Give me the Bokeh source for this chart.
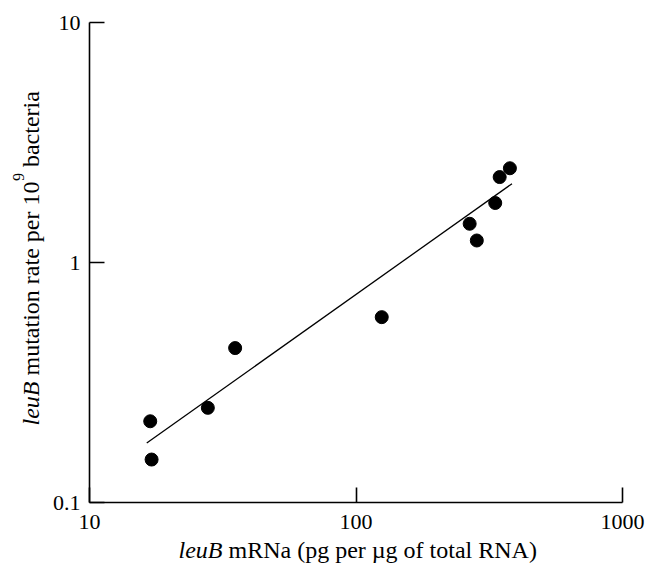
import math
from bokeh.plotting import figure
from bokeh.models import FixedTicker, Label, LogAxis, Range1d
from bokeh.embed import file_html
from bokeh.resources import INLINE

# data
mrna = [16.9, 17.1, 27.8, 35.2, 124.9, 267, 284, 333, 346, 378]
rate = [0.218, 0.151, 0.248, 0.440, 0.592, 1.45, 1.235, 1.77, 2.27, 2.47]
fit_x = [16.4, 385]
fit_y = [0.177, 2.13]
x_ticks = [10, 100, 1000]
y_ticks = [0.1, 1, 10]
x_tick_labels = ["10", "100", "1000"]
y_tick_labels = ["0.1", "1", "10"]

FONT = "Liberation Serif"
W, H = 660, 564
# visible axes box in pixels
X0, XDEC = 89, 266.5      # x=10 at px 89, one decade = 266.5 px
Y0, YDEC = 22, 240        # y=10 at py 22, one decade = 240 px

def dx(px):
    return 10 ** (1 + (px - X0) / XDEC)

def dy(py):
    return 10 ** (1 - (py - Y0) / YDEC)

p = figure(x_axis_type="log", y_axis_type="log",
           x_axis_location=None, y_axis_location=None,
           x_range=Range1d(dx(0), dx(W)), y_range=Range1d(dy(H), dy(0)),
           width=W, height=H,
           min_border_left=0, min_border_right=0,
           min_border_top=0, min_border_bottom=0,
           output_backend="svg", toolbar_location=None)
p.outline_line_color = None
p.background_fill_color = "white"
p.border_fill_color = "white"
for g in p.grid:
    g.visible = False

xaxis = LogAxis(fixed_location=min(y_ticks), bounds=(min(x_ticks), max(x_ticks)))
yaxis = LogAxis(fixed_location=min(x_ticks), bounds=(min(y_ticks), max(y_ticks)))
for ax, ticks, labels in ((xaxis, x_ticks, x_tick_labels), (yaxis, y_ticks, y_tick_labels)):
    ax.ticker = FixedTicker(ticks=ticks, minor_ticks=[])
    ax.major_label_overrides = {t: l for t, l in zip(ticks, labels)}
    ax.axis_line_width = 1.6
    ax.axis_line_color = "black"
    ax.major_tick_line_width = 1.6
    ax.major_tick_line_color = "black"
    ax.major_tick_in = 15
    ax.major_tick_out = 0
    ax.minor_tick_line_color = None
    ax.major_label_text_font = FONT
    ax.major_label_text_font_size = "22px"
    ax.major_label_text_color = "black"
xaxis.major_label_standoff = 12
yaxis.major_label_standoff = 9
p.add_layout(xaxis, "below")
p.add_layout(yaxis, "left")

p.line(fit_x, fit_y, line_color="black", line_width=1.3)
p.scatter(mrna, rate, size=13, fill_color="black", line_color="black")

LS = 24
em = LS

# x-axis label: italic "leuB" + normal rest
xb = 549
xj = 178 + 1.833 * em
p.add_layout(Label(x=dx(xj), y=dy(xb), text="leuB", text_font=FONT, text_font_style="italic",
                   text_font_size=f"{LS}px", text_align="right", text_baseline="alphabetic", text_color="black"))
p.add_layout(Label(x=dx(xj + 0.25 * em), y=dy(xb), text="mRNa (pg per µg of total RNA)", text_font=FONT,
                   text_font_size=f"{LS}px", text_align="left", text_baseline="alphabetic", text_color="black"))

# y-axis label (rotated): italic "leuB" + "mutation rate per 10" + superscript 9 + "bacteria"
yb = 30
y0 = 425
a = math.pi / 2
p.add_layout(Label(x=dx(yb), y=dy(y0), text="leuB", text_font=FONT, text_font_style="italic",
                   text_font_size=f"{LS}px", text_align="left", text_baseline="alphabetic", angle=a, text_color="black"))
ys2 = y0 - 1.833 * em - 0.25 * em
p.add_layout(Label(x=dx(yb), y=dy(ys2), text="mutation rate per 10", text_font=FONT,
                   text_font_size=f"{LS}px", text_align="left", text_baseline="alphabetic", angle=a, text_color="black"))
SS = 16
ys3 = ys2 - 8.082 * em - 0.5
p.add_layout(Label(x=dx(yb - 12), y=dy(ys3), text="9", text_font=FONT,
                   text_font_size=f"{SS}px", text_align="left", text_baseline="alphabetic", angle=a, text_color="black"))
ys4 = ys3 - 0.5 * SS - 0.25 * em
p.add_layout(Label(x=dx(yb), y=dy(ys4), text="bacteria", text_font=FONT,
                   text_font_size=f"{LS}px", text_align="left", text_baseline="alphabetic", angle=a, text_color="black"))

open("out.html", "w").write(file_html(p, INLINE))
